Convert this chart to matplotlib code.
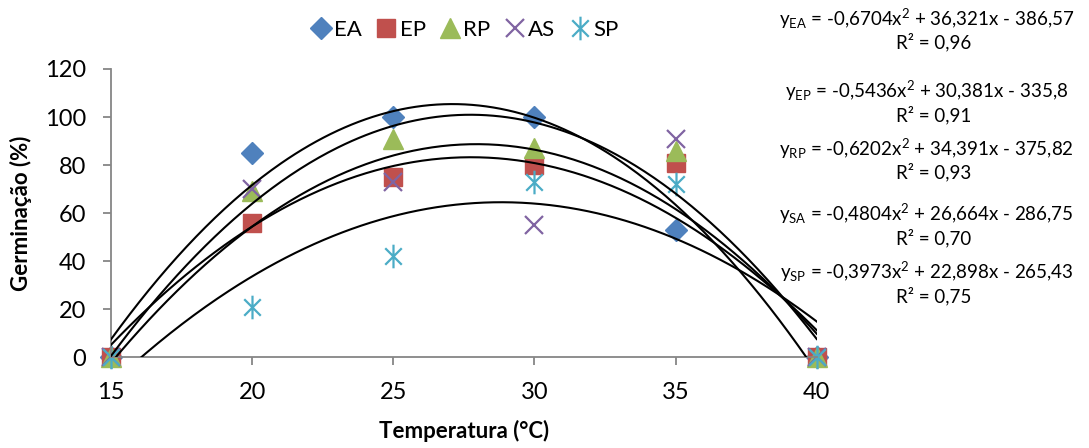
import numpy as np
from matplotlib import pyplot as plt
from matplotlib.path import Path

plt.rcParams['font.family'] = ['Lato', 'DejaVu Sans']
plt.rcParams['mathtext.default'] = 'regular'

# Temperatura (°C) e germinação (%) por tratamento
temps = [15, 20, 25, 30, 35, 40]
ea = [0, 85, 100, 100, 53, 0]
ep = [0, 56, 75, 80, 81, 0]
rp = [0, 69, 91, 87, 86, 0]
as_ = [0, 70, 73, 55, 91, 0]
sp = [0, 21, 42, 73, 72, 0]

# coeficientes das linhas de tendência (a, b, c) e R²
coef_ea = [-0.6704, 36.321, -386.57]
coef_ep = [-0.5436, 30.381, -335.8]
coef_rp = [-0.6202, 34.391, -375.82]
coef_sa = [-0.4804, 26.664, -286.75]
coef_sp = [-0.3973, 22.898, -265.43]
eq_names = ['EA', 'EP', 'RP', 'SA', 'SP']
eq_text = ['-0,6704x$^{2}$ + 36,321x - 386,57',
           '-0,5436x$^{2}$ + 30,381x - 335,8',
           '-0,6202x$^{2}$ + 34,391x - 375,82',
           '-0,4804x$^{2}$ + 26,664x - 286,75',
           '-0,3973x$^{2}$ + 22,898x - 265,43']
r2 = ['0,96', '0,91', '0,93', '0,70', '0,75']

# marcador estrela do Excel: x com traço vertical
star = Path([(0, -1), (0, 1), (-0.7, -0.7), (0.7, 0.7), (-0.7, 0.7), (0.7, -0.7)],
            [Path.MOVETO, Path.LINETO] * 3)

fig = plt.figure(figsize=(10.89, 4.48), dpi=100)
ax = fig.add_axes([0.102, 0.203, 0.648, 0.643])

ax.plot(temps, ea, 'D', color='#4F81BD', ms=11, label='EA', ls='none', clip_on=False)
ax.plot(temps, ep, 's', color='#C0504D', ms=13, label='EP', ls='none', clip_on=False)
ax.plot(temps, rp, '^', color='#9BBB59', ms=14, label='RP', ls='none', clip_on=False)
ax.plot(temps, as_, 'x', color='#8064A2', ms=13, mew=1.6, label='AS', ls='none',
        clip_on=False)
ax.plot(temps, sp, marker=star, color='#4BACC6', ms=17, mew=1.6, label='SP',
        ls='none', clip_on=False)

xs = np.linspace(15, 40, 300)
for c in [coef_ea, coef_ep, coef_rp, coef_sa, coef_sp]:
    ax.plot(xs, np.polyval(c, xs), color='black', lw=1.5, zorder=5)

ax.set_xlim(15, 40)
ax.set_ylim(0, 120)
ax.set_xticks(temps)
ax.set_yticks(range(0, 121, 20))
for s in ['top', 'right']:
    ax.spines[s].set_visible(False)
for s in ['left', 'bottom']:
    ax.spines[s].set_color('#868686')
    ax.spines[s].set_linewidth(1.3)
ax.tick_params(axis='both', colors='#868686', labelcolor='black',
               labelsize=17, length=6, width=1.3)
ax.tick_params(axis='x', pad=12)
ax.tick_params(axis='y', pad=12)
ax.set_xlabel('Temperatura (°C)', fontsize=16, fontweight='bold', labelpad=12)
ax.set_ylabel('Germinação (%)', fontsize=16, fontweight='bold', labelpad=9)

ax.legend(loc='lower center', bbox_to_anchor=(0.5, 1.07), ncol=5,
          frameon=False, fontsize=16, handletextpad=0.1, columnspacing=0.6,
          handlelength=1.0, borderaxespad=0)

eq_y = [0.958, 0.797, 0.668, 0.522, 0.393]
for name, txt, r, y in zip(eq_names, eq_text, r2, eq_y):
    fig.text(0.851, y, 'y$_{' + name + '}$ = ' + txt, ha='center',
             va='center', fontsize=13.5)
    fig.text(0.857, y - 0.053, 'R² = ' + r, ha='center', va='center',
             fontsize=13.5)

fig.savefig('out.png', dpi=100)
